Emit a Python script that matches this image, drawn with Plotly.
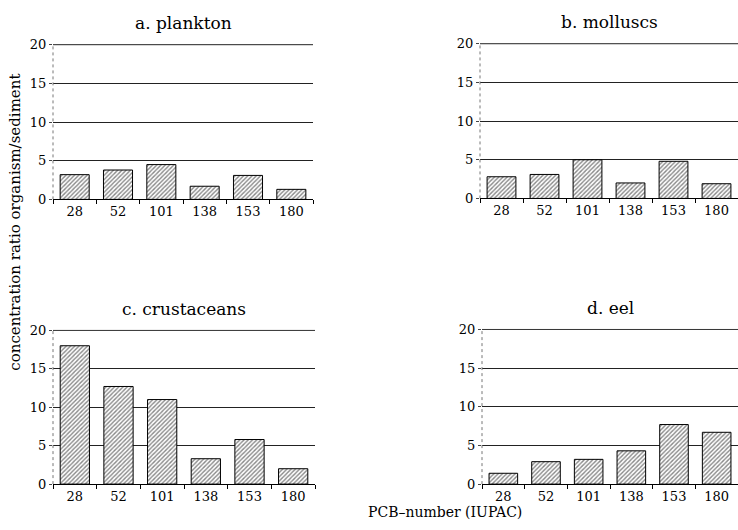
import plotly.graph_objects as go

categories = ["28", "52", "101", "138", "153", "180"]
plankton = [3.2, 3.8, 4.5, 1.7, 3.1, 1.3]
molluscs = [2.8, 3.1, 5.0, 2.0, 4.8, 1.9]
crustaceans = [18.0, 12.7, 11.0, 3.3, 5.8, 2.0]
eel = [1.4, 2.9, 3.2, 4.3, 7.7, 6.7]
titles = ["a. plankton", "b. molluscs", "c. crustaceans", "d. eel"]
y_ticks = [0, 5, 10, 15, 20]

W, H = 738, 530
FONT = "DejaVu Serif"

def px_dom_x(a, b):
    return [a / W, b / W]

def px_dom_y(top, bottom):
    return [1 - bottom / H, 1 - top / H]

panels = [
    (plankton, px_dom_x(53, 313), px_dom_y(38, 198)),
    (molluscs, px_dom_x(480, 738), px_dom_y(37, 197)),
    (crustaceans, px_dom_x(53, 315), px_dom_y(332, 491)),
    (eel, px_dom_x(482, 738), px_dom_y(331, 491)),
]

fig = go.Figure()
layout = dict(
    width=W, height=H, margin=dict(l=0, r=0, t=0, b=0),
    paper_bgcolor="white", plot_bgcolor="white", showlegend=False,
    font=dict(family=FONT, color="black", size=12),
)
annotations = []
shapes = []
for i, (vals, dx, dy) in enumerate(panels):
    n = "" if i == 0 else str(i + 1)
    fig.add_trace(go.Bar(
        x=categories, y=vals, width=0.67,
        xaxis="x" + n, yaxis="y" + n,
        marker=dict(color="white", line=dict(color="black", width=1),
                    pattern=dict(shape="/", fgcolor="#111", bgcolor="white",
                                 size=3, solidity=0.45)),
    ))
    layout["xaxis" + n] = dict(
        domain=dx, anchor="y" + n, type="category",
        showline=True, linecolor="black", linewidth=1,
        ticks="outside", ticklen=4, tickcolor="black", tickson="boundaries",
        showgrid=False, tickfont=dict(family=FONT, size=13),
    )
    layout["yaxis" + n] = dict(
        domain=dy, anchor="x" + n, range=[0, 20.1],
        tickvals=y_ticks, ticks="outside", ticklen=3, tickcolor="#444",
        showline=False,
        showgrid=True, gridcolor="#222", gridwidth=1, zeroline=False,
        tickfont=dict(family=FONT, size=13),
    )
    # top gridline at 20 and dotted left axis line
    shapes.append(dict(type="line", xref="x%s domain" % n, yref="y" + n,
                       x0=0, x1=1, y0=20, y1=20,
                       line=dict(color="#222", width=1)))
    shapes.append(dict(type="line", xref="x%s domain" % n, yref="y" + n,
                       x0=0, x1=0, y0=0, y1=20,
                       line=dict(color="#777", width=1, dash="dot")))
    cx = (dx[0] + dx[1]) / 2
    annotations.append(dict(
        text=titles[i], x=cx, y=dy[1], xref="paper", yref="paper",
        xanchor="center", yanchor="bottom", yshift=9, showarrow=False,
        font=dict(family=FONT, size=17, color="black"),
    ))

annotations.append(dict(
    text="concentration ratio organism/sediment", x=15 / W, y=1 - 222 / H,
    xref="paper", yref="paper", textangle=-90, showarrow=False,
    xanchor="center", yanchor="middle",
    font=dict(family=FONT, size=15, color="black"),
))
annotations.append(dict(
    text="PCB\u2013number (IUPAC)", x=445 / W, y=0,
    xref="paper", yref="paper", showarrow=False,
    xanchor="center", yanchor="bottom", yshift=1, borderpad=0,
    font=dict(family=FONT, size=14, color="black"),
))
layout["annotations"] = annotations
layout["shapes"] = shapes
fig.update_layout(**layout)
fig.write_html("out.html")
